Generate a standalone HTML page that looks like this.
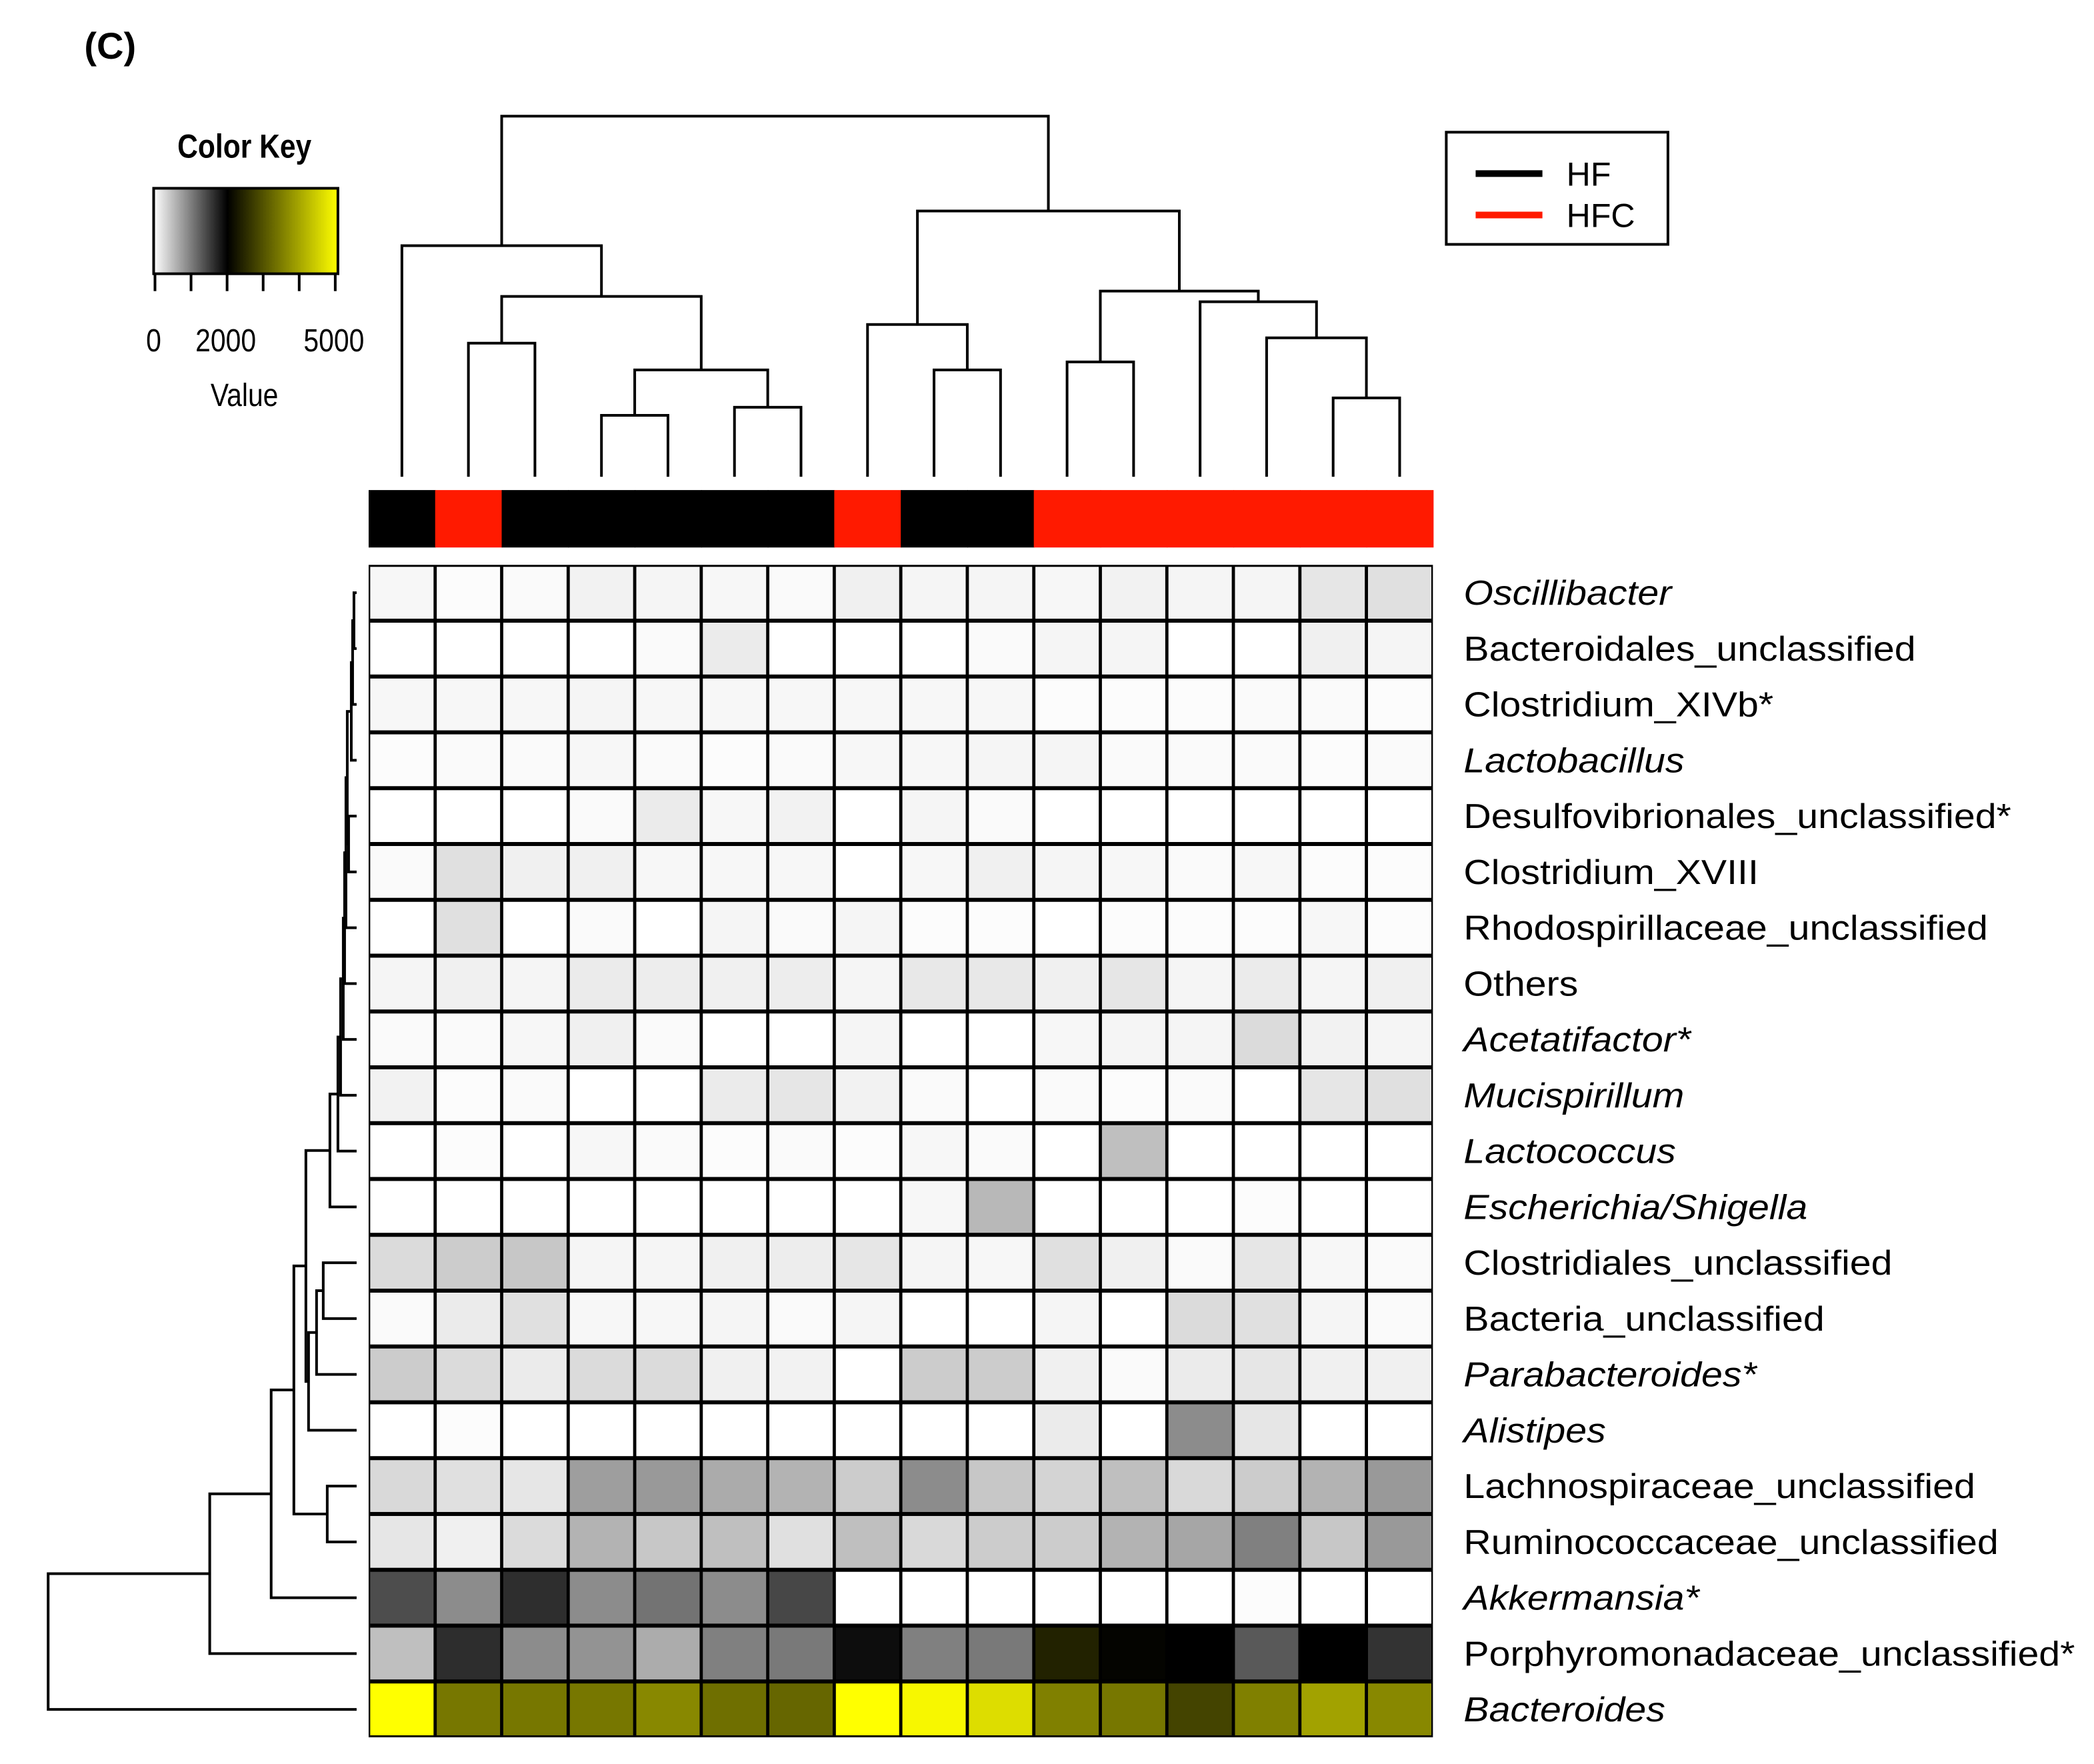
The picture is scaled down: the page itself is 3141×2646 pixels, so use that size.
<!DOCTYPE html>
<html><head><meta charset="utf-8"><style>
html,body{margin:0;padding:0;background:#fff;}
svg{display:block;font-family:"Liberation Sans",sans-serif;}
</style></head><body>
<svg id="chart" width="3141" height="2646" viewBox="0 0 1568 1321" xmlns="http://www.w3.org/2000/svg">
<defs>
<linearGradient id="keyGrad" x1="0" x2="1" y1="0" y2="0">
<stop offset="0" stop-color="#ffffff"/><stop offset="0.4" stop-color="#000000"/><stop offset="1" stop-color="#ffff00"/>
</linearGradient>
</defs>
<text x="63" y="44" font-size="28" font-weight="bold">(C)</text>
<g>
<text x="183" y="118" font-size="25" font-weight="bold" text-anchor="middle" transform="translate(183 0) scale(0.85 1) translate(-183 0)">Color Key</text>
<rect x="115" y="141" width="138" height="64" fill="url(#keyGrad)" stroke="#000" stroke-width="2"/>
<g stroke="#000" stroke-width="2">
<line x1="116" y1="205" x2="116" y2="218"/><line x1="143" y1="205" x2="143" y2="218"/><line x1="170" y1="205" x2="170" y2="218"/><line x1="197" y1="205" x2="197" y2="218"/><line x1="224" y1="205" x2="224" y2="218"/><line x1="251" y1="205" x2="251" y2="218"/>
</g>
<g font-size="24" text-anchor="middle">
<text x="115" y="263" transform="translate(115 0) scale(0.85 1) translate(-115 0)">0</text>
<text x="169" y="263" transform="translate(169 0) scale(0.85 1) translate(-169 0)">2000</text>
<text x="250" y="263" transform="translate(250 0) scale(0.85 1) translate(-250 0)">5000</text>
<text x="183" y="304" transform="translate(183 0) scale(0.85 1) translate(-183 0)">Value</text>
</g>
</g>
<g>
<rect x="1083" y="99" width="166" height="84" fill="#fff" stroke="#000" stroke-width="2"/>
<line x1="1105" y1="130" x2="1155" y2="130" stroke="#000" stroke-width="5"/>
<text x="1173" y="139" font-size="25">HF</text>
<line x1="1105" y1="161" x2="1155" y2="161" stroke="#ff1a00" stroke-width="5"/>
<text x="1173" y="170" font-size="25">HFC</text>
</g>
<g id="cells"></g>
<g id="groups"></g>
<g id="labels" transform="translate(1096 0) scale(1.1 1) translate(-1096 0)"></g>
<g id="coldendro" stroke="#000" stroke-width="2" fill="none"></g>
<g id="rowdendro" stroke="#000" stroke-width="2" fill="none"></g>
</svg>
<script>
const rowNames=["Oscillibacter","Bacteroidales_unclassified","Clostridium_XIVb*","Lactobacillus","Desulfovibrionales_unclassified*","Clostridium_XVIII","Rhodospirillaceae_unclassified","Others","Acetatifactor*","Mucispirillum","Lactococcus","Escherichia/Shigella","Clostridiales_unclassified","Bacteria_unclassified","Parabacteroides*","Alistipes","Lachnospiraceae_unclassified","Ruminococcaceae_unclassified","Akkermansia*","Porphyromonadaceae_unclassified*","Bacteroides"];
const italicRows=[true,false,false,true,false,false,false,false,true,true,true,true,false,false,true,true,false,false,true,false,true];
const groups=["HF","HFC","HF","HF","HF","HF","HF","HFC","HF","HF","HFC","HFC","HFC","HFC","HFC","HFC"];
const v0=[60,20,40,100,80,60,40,120,80,80,60,100,80,80,200,240];
const v1=[0,0,0,0,40,160,0,0,0,40,80,80,0,0,120,80];
const v2=[60,60,60,80,60,60,60,60,60,60,20,20,20,40,40,20];
const v3=[20,40,40,60,40,20,40,60,60,80,80,40,40,40,20,40];
const v4=[0,0,0,40,160,60,100,0,80,40,0,0,0,0,0,0];
const v5=[40,240,120,120,60,60,60,0,60,120,80,60,40,60,20,20];
const v6=[0,240,0,40,0,80,40,80,20,20,0,20,20,20,60,20];
const v7=[80,120,80,160,140,120,140,80,180,180,120,200,80,160,80,120];
const v8=[40,40,60,120,40,0,0,80,0,0,60,80,80,280,100,80];
const v9=[100,20,40,0,0,160,200,100,40,0,40,20,40,0,200,240];
const v10=[0,20,0,60,40,20,40,20,60,40,0,500,0,0,0,0];
const v11=[0,0,0,0,0,0,0,0,60,560,0,0,0,20,0,0];
const v12=[280,400,440,80,80,120,140,200,80,60,240,120,40,200,60,40];
const v13=[40,160,240,60,60,80,40,80,0,0,80,0,280,240,80,40];
const v14=[400,280,160,280,280,120,100,0,400,400,120,40,160,200,120,120];
const v15=[0,20,0,0,0,0,0,0,0,0,160,0,900,200,0,0];
const v16=[300,240,200,760,800,660,600,400,900,440,340,500,300,400,600,800];
const v17=[200,120,280,600,440,500,240,500,300,400,400,600,700,1000,440,800];
const v18=[1400,900,1640,900,1100,900,1440,0,0,0,0,0,0,20,0,0];
const v19=[500,1650,900,850,650,1000,1050,1900,1000,1050,2400,2050,2000,1300,2000,1600];
const v20=[5000,3400,3400,3400,3600,3300,3200,5000,4900,4600,3500,3400,2800,3500,3900,3600];
const values=[v0,v1,v2,v3,v4,v5,v6,v7,v8,v9,v10,v11,v12,v13,v14,v15,v16,v17,v18,v19,v20];
const colMerges=[[3,4,46],[5,6,52],[16,17,80],[1,2,100],[19,18,135],[0,20,173],[8,9,80],[7,22,114],[10,11,86],[14,15,59],[13,25,104],[12,26,131],[24,27,139],[23,28,199],[21,29,270]];
const rowMerges=[[0,1,2],[21,2,3],[22,3,4],[4,5,6],[23,24,7],[25,6,8],[26,7,9],[27,8,10],[28,9,12],[29,10,14],[30,11,20],[12,13,25],[32,14,30],[33,15,36],[31,34,38],[16,17,22],[35,36,47],[37,18,64],[38,19,110],[39,20,231]];

const NS="http://www.w3.org/2000/svg";
const X0=276,X1=1073,Y0=423,Y1=1301;
const nC=groups.length,nR=rowNames.length;
const cw=(X1-X0)/nC,rh=(Y1-Y0)/nR;
const xCol=i=>X0+i*cw, yRow=j=>Y0+j*rh;
function color(v){
  let r,g,b;
  if(v<=2000){const t=1-v/2000;r=g=b=Math.round(255*t);}
  else{const t=Math.min(1,(v-2000)/3000);r=g=Math.round(255*t);b=0;}
  return `rgb(${r},${g},${b})`;
}
function mk(tag,attrs,parent){const e=document.createElementNS(NS,tag);for(const k in attrs)e.setAttribute(k,attrs[k]);parent.appendChild(e);return e;}
const cells=document.getElementById('cells');
mk('rect',{x:X0,y:Y0,width:X1-X0,height:Y1-Y0,fill:'#000'},cells);
for(let j=0;j<nR;j++)for(let i=0;i<nC;i++){
  const r=mk('rect',{x:xCol(i)+1.2,y:yRow(j)+1.5,width:cw-2.4,height:rh-3,fill:color(values[j][i])},cells);
  
  
}
const gb=document.getElementById('groups');
for(let i=0;i<nC;i++){
  const r=mk('rect',{x:xCol(i),y:367,width:cw+0.5,height:43,fill:groups[i]==='HF'?'#000':'#ff1a00'},gb);
  
  
}
const lb=document.getElementById('labels');
for(let j=0;j<nR;j++){
  const t=mk('text',{x:1096,y:yRow(j)+rh/2+9,'font-size':26,'font-style':italicRows[j]?'italic':'normal'},lb);
  t.textContent=rowNames[j];
  
  
}
const cd=document.getElementById('coldendro');
const cPos=[],cH=[];
const leafY=357;
for(let i=0;i<nC;i++){cPos.push(xCol(i)+cw/2);cH.push(0);}
const hy=h=>leafY-h;
colMerges.forEach(m=>{
  const [a,b,h]=m;const y=hy(h);
  const p=mk('path',{d:`M${cPos[a]},${hy(cH[a])}V${y}H${cPos[b]}V${hy(cH[b])}`},cd);
  
  
  cPos.push((cPos[a]+cPos[b])/2);cH.push(h);
});
const rd=document.getElementById('rowdendro');
const rPos=[],rH=[];
const leafX=267;
for(let j=0;j<nR;j++){rPos.push(yRow(j)+rh/2);rH.push(0);}
const hx=h=>leafX-h;
rowMerges.forEach(m=>{
  const [a,b,h]=m;const x=hx(h);
  const p=mk('path',{d:`M${hx(rH[a])},${rPos[a]}H${x}V${rPos[b]}H${hx(rH[b])}`},rd);
  
  
  rPos.push((rPos[a]+rPos[b])/2);rH.push(h);
});
</script>
</body></html>
